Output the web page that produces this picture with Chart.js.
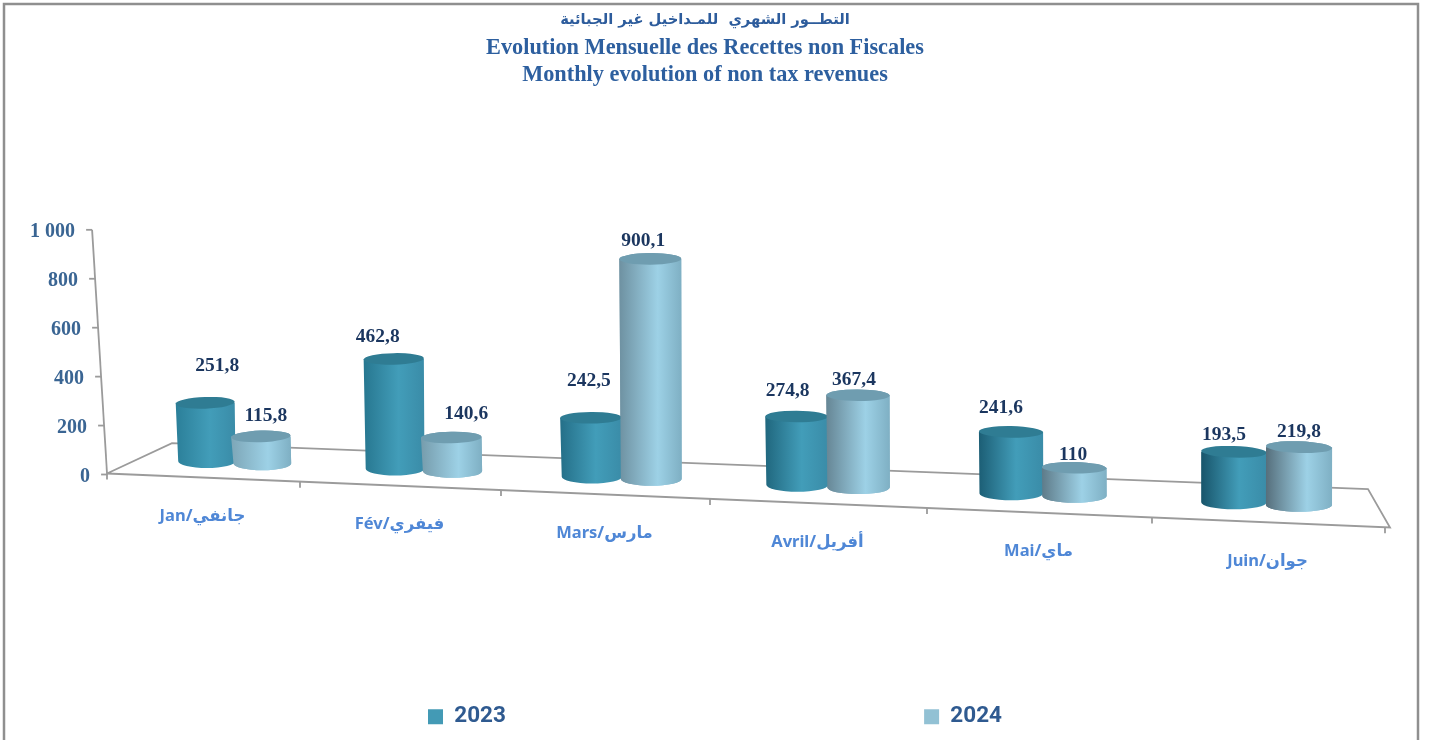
<!DOCTYPE html>
<html><head><meta charset="utf-8">
<style>html,body{margin:0;padding:0;background:#fff}canvas{display:block}</style>
<script src="https://cdn.jsdelivr.net/npm/chart.js@4"></script>
</head><body>
<canvas id="c" width="1430" height="740"></canvas>
<script>
const categories = ['Jan/جانفي','Fév/فيفري','Mars/مارس','Avril/أفريل','Mai/ماي','Juin/جوان'];
const values2023 = [251.8,462.8,242.5,274.8,241.6,193.5];
const values2024 = [115.8,140.6,900.1,367.4,110,219.8];
const titleArabic = 'التطــور الشهري  للمـداخيل غير الجبائية';
const titleLines = ['Evolution Mensuelle des Recettes non Fiscales','Monthly evolution of non tax revenues'];
// value-label offsets from the top of each cylinder (layout only)
const labelDx = [[12,-16,-2,-9,-10,-10],[5,15,-7,-4,-1,0]];
const labelDy = [[-37,-22,-37,-26,-24,-17],[-20,-23,-18,-15,-13,-15]];

const COL23='#439ab5', COL24='#92c1d4';
const styles = {
  [COL23]:{l0:'#2b7f99',l1:'#175268',m:'#429db9',r:'#3a8ca8',top:'#2f7c93',stop:.58},
  [COL24]:{l0:'#7fa9ba',l1:'#566f7c',m:'#9dd1e6',r:'#7fb0c4',top:'#6f9db0',stop:.62}
};
function mix(a,b,k){const p=s=>[1,3,5].map(i=>parseInt(s.substr(i,2),16));const A=p(a),B=p(b);
  return 'rgb('+A.map((v,i)=>Math.round(v+(B[i]-v)*k)).join(',')+')';}

// Oblique projection of the flat scales onto the tilted 3D floor
const axisX = t => 107+189*t+4*t*t;
const frontY = x => 473.5+0.0421*(x-107);
const backY = x => 448+0.0384*(x-300);
const barX = i => 233+189.5*i+4.3*i*(i-1);
const floorY = x => 453+0.04*x;
const heightK = x => (0.232+0.03*(x-200)/1050)/0.245;
const leanX = y => 107-15*(473-y)/245;
// projected centre of a bar element from its position on the x scale
function projectedX(el,sx){
  const i=(el.x-sx.left)/(sx.width/6)-0.5, i0=Math.round(i);
  return barX(i0)+Math.sign(i-i0)*(27.8+0.95*i0);
}

let xScaleRef=null;
function drawCylinder(el,ctx){
  const sx=xScaleRef; if(!sx)return;
  const cx=projectedX(el,sx), hw=29.5+(cx-205)/1030*3.3;
  const baseY=floorY(cx), h=(el.base-el.y)*heightK(cx), topY=baseY-h;
  const k=Math.min(1,Math.max(0,(cx-200)/1100));
  const st=styles[el.options.backgroundColor]||styles[COL23];
  const lean=3*(1-cx/1250), ryT=5.8, ryB=6.8, rot=(k-0.5)*0.07;
  const g=ctx.createLinearGradient(cx-hw,0,cx+hw,0);
  g.addColorStop(0,mix(st.l0,st.l1,k));
  g.addColorStop(st.stop,st.m);
  g.addColorStop(1,st.r);
  ctx.save();
  ctx.fillStyle=g;
  ctx.beginPath();
  ctx.moveTo(cx-hw,topY);
  ctx.lineTo(cx+hw,topY);
  ctx.lineTo(cx+hw+lean*0.3,baseY);
  ctx.ellipse(cx+lean*0.65,baseY,hw-lean*0.35,ryB,0,0,Math.PI);
  ctx.closePath();
  ctx.fill();
  ctx.fillStyle=st.top;
  ctx.beginPath();
  ctx.ellipse(cx,topY,hw,ryT,rot,0,Math.PI*2);
  ctx.fill();
  ctx.restore();
}
Chart.BarElement.prototype.draw=function(ctx){drawCylinder(this,ctx);};

const scene={
  id:'scene',
  afterLayout(chart){
    xScaleRef=chart.scales.x;
    chart.boxes.forEach(b=>{ if(b._padding && b.position==='top' && b.fullSize && !b.axis){b.right=b.left+1410;} });
  },
  beforeDraw(chart){
    const {ctx,scales:{x,y}}=chart;
    xScaleRef=x;
    ctx.save();
    ctx.strokeStyle='#8f8f8f';ctx.lineWidth=2.5;
    ctx.beginPath();ctx.moveTo(4,742);ctx.lineTo(4,4);ctx.lineTo(1418,4);ctx.lineTo(1418,742);ctx.stroke();
    ctx.restore();
    x.getLabelItems(chart.chartArea).forEach((it,i)=>{
      if(it._done)return;it._done=true;
      const px=axisX(i+0.5);
      it.options.translation=[px,frontY(px)+38.5];
      it.options.textAlign='center';it.options.textBaseline='middle';it.textOffset=0;
    });
    y.getLabelItems(chart.chartArea).forEach(it=>{
      if(it._done)return;it._done=true;
      const py=it.options.translation[1];
      it.options.translation=[leanX(py)-17,py+2];
      it.options.textAlign='right';
    });
  },
  beforeDatasetsDraw(chart){
    const {ctx,scales:{y}}=chart;
    ctx.save();
    ctx.strokeStyle='#9b9b9b';ctx.lineWidth=1.8;
    const top=y.getPixelForValue(1000), zero=y.getPixelForValue(0);
    ctx.beginPath();ctx.moveTo(leanX(top),top);ctx.lineTo(leanX(zero),zero);ctx.stroke();
    y.ticks.forEach((t,i)=>{const py=y.getPixelForTick(i);ctx.beginPath();ctx.moveTo(leanX(py),py);ctx.lineTo(leanX(py)-6,py);ctx.stroke();});
    ctx.beginPath();
    ctx.moveTo(107,473.5);ctx.lineTo(172,backY(172));ctx.lineTo(1368,backY(1368));ctx.lineTo(1390,frontY(1390));ctx.lineTo(107,473.5);
    ctx.stroke();
    for(let t=0;t<=6;t++){const px=axisX(t);ctx.beginPath();ctx.moveTo(px,frontY(px));ctx.lineTo(px,frontY(px)+6);ctx.stroke();}
    // value labels lie behind the cylinders
    ctx.font='bold 19.5px "Liberation Serif"';ctx.fillStyle='#1b365f';ctx.textAlign='center';ctx.textBaseline='middle';
    [0,1].forEach(d=>{
      chart.getDatasetMeta(d).data.forEach((el,i)=>{
        const cx=projectedX(el,chart.scales.x);
        const tp=floorY(cx)-(el.base-el.y)*heightK(cx);
        const txt=String(chart.data.datasets[d].data[i]).replace('.',',');
        ctx.fillText(txt,cx+labelDx[d][i],tp+labelDy[d][i]);
      });
    });
    ctx.restore();
  },
  afterDatasetsDraw(chart){
    // 2024 cylinders stand in front of 2023 ones
    chart.getDatasetMeta(1).data.forEach(el=>el.draw(chart.ctx,chart.chartArea));
  }
};

new Chart(document.getElementById('c'),{
  type:'bar',
  data:{labels:categories,datasets:[
    {label:'2023',data:values2023,backgroundColor:COL23,borderWidth:0,clip:false},
    {label:'2024',data:values2024,backgroundColor:COL24,borderWidth:0,clip:false}
  ]},
  options:{
    responsive:false,animation:false,devicePixelRatio:1,
    categoryPercentage:0.6,barPercentage:1,
    layout:{padding:{left:0,right:0,top:0,bottom:2}},
    plugins:{
      tooltip:{enabled:false},
      title:{display:true,text:titleArabic,color:'#2d5c9c',font:{family:'"DejaVu Sans"',size:14.7,weight:'bold',lineHeight:1.2},padding:{top:11,bottom:0}},
      subtitle:{display:true,text:titleLines,color:'#2d5f9f',font:{family:'"Liberation Serif"',size:22.3,weight:'bold',lineHeight:1.17},padding:{top:7,bottom:142}},
      legend:{position:'bottom',labels:{
        boxWidth:15,boxHeight:15,padding:10,color:'#2f5a90',font:{family:'Roboto',size:22.5,weight:'bold'},
        generateLabels(chart){
          const items=Chart.defaults.plugins.legend.labels.generateLabels(chart);
          items[0].text+='\u00a0'.repeat(73);
          return items;
        }
      }}
    },
    scales:{
      x:{grid:{display:false},border:{display:false},afterFit(s){s.height=221;},
        ticks:{color:'#4f87d6',maxRotation:0,autoSkip:false,font:{family:'"Noto Sans","DejaVu Sans"',size:16.5,weight:'bold'}}},
      y:{min:0,max:1000,grid:{display:false},border:{display:false},afterFit(s){s.width=107;},
        ticks:{stepSize:200,color:'#3a6593',font:{family:'"Liberation Serif"',size:20,weight:'bold'},callback:v=>v===1000?'1 000':String(v)}}
    }
  },
  plugins:[scene]
});
</script>
</body></html>
